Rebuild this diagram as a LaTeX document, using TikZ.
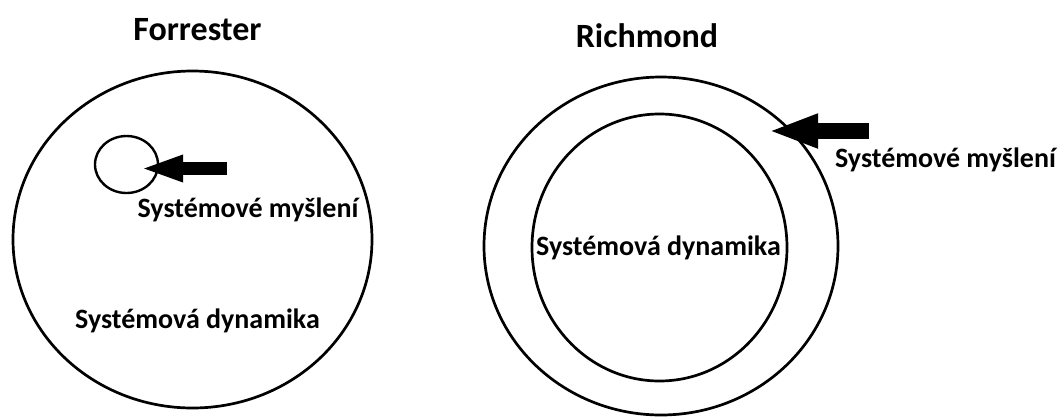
\documentclass[tikz,border=0pt]{standalone}
\usepackage{fontspec}
\setmainfont{Carlito}
\usetikzlibrary{shapes.geometric,arrows.meta}

\tikzset{
  ring/.style={draw=black, line width=2.7pt, ellipse, inner sep=0pt, outer sep=0pt},
  title/.style={font=\bfseries\fontsize{34}{40}\selectfont, anchor=base, inner sep=0pt},
  label/.style={font=\bfseries\fontsize{28}{32}\selectfont, anchor=base, inner sep=0pt},
}

\begin{document}
\begin{tikzpicture}[x=1pt, y=-1pt]
  \useasboundingbox (0,0) rectangle (1060,416);

  % Forrester: thinking is a small part of the dynamics
  \node[title] (ftitle) at (197.5,40) {Forrester};
  \node[ring, minimum width=359pt, minimum height=337pt] (fbig) at (192.5,239.5) {};
  \node[ring, line width=2.4pt, minimum width=63pt, minimum height=57pt] (fsmall) at (126.5,164.5) {};
  \coordinate (ftail) at (227,168.5);
  \coordinate (ftip) at (140,168.5);
  \draw[line width=13pt, -{Triangle[length=43pt,width=24pt]}] (ftail) -- (ftip);
  \node[label] (fthink) at (248,217) {Systémové myšlení};
  \node[label] (fdyn) at (197.5,328) {Systémová dynamika};

  % Richmond: dynamics sits inside the wider thinking
  \node[title] (rtitle) at (647,47) {Richmond};
  \node[ring, minimum width=354pt, minimum height=338pt] (router) at (661,246) {};
  \node[ring, minimum width=255pt, minimum height=267pt] (rinner) at (659.5,247.5) {};
  \coordinate (rtail) at (869,131);
  \coordinate (rtip) at (768,131);
  \draw[line width=16pt, -{Triangle[length=50pt,width=31pt]}] (rtail) -- (rtip);
  \node[label] (rthink) at (945.5,167) {Systémové myšlení};
  \node[label] (rdyn) at (658.5,255) {Systémová dynamika};
\end{tikzpicture}
\end{document}
